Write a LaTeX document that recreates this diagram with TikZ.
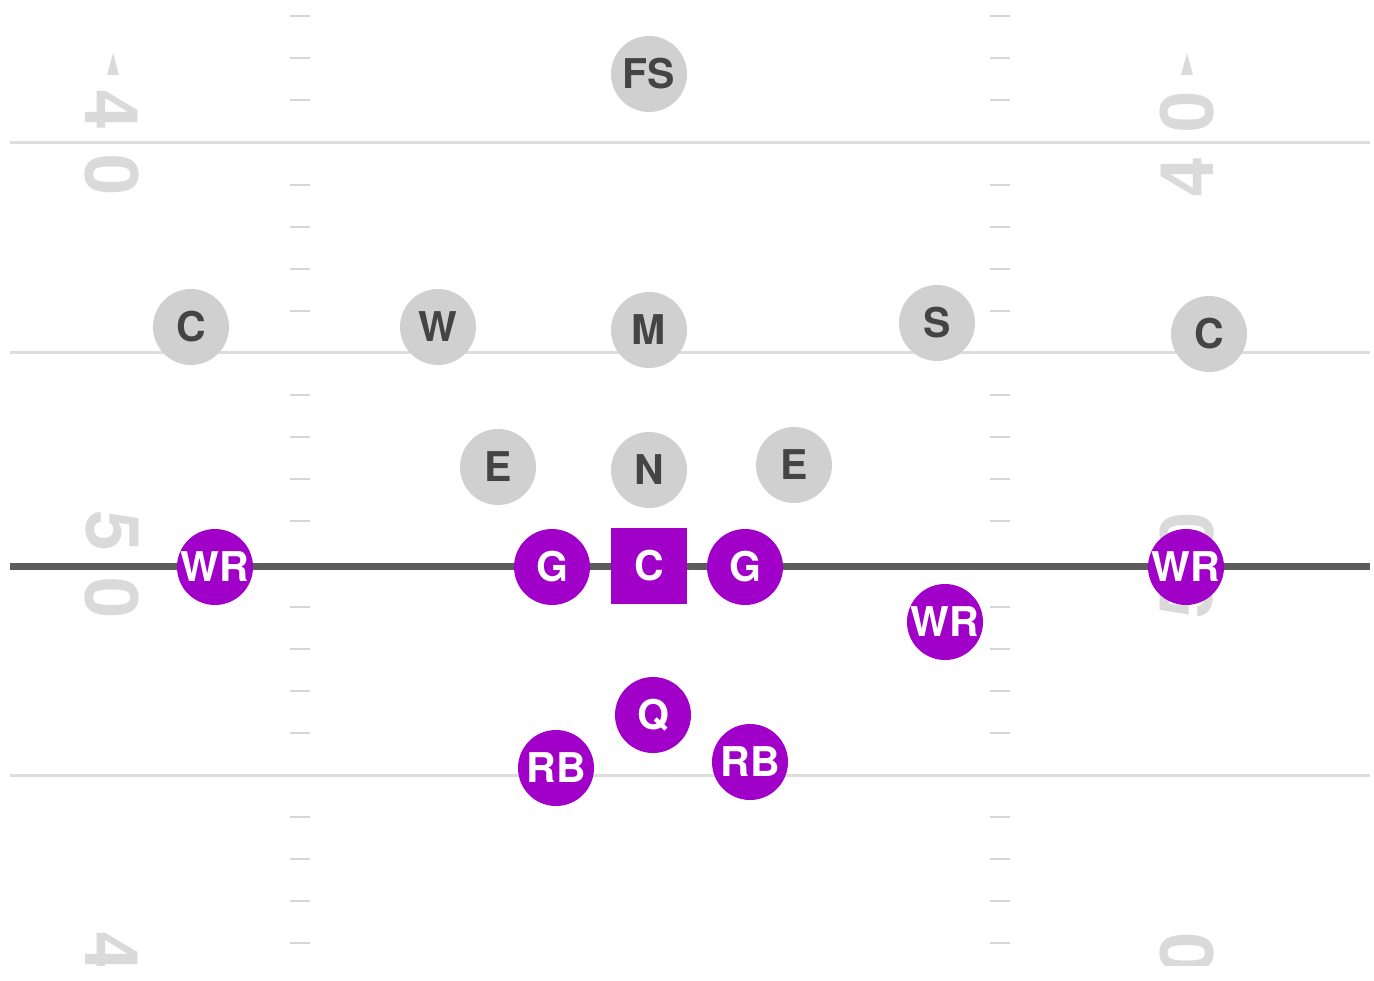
\documentclass[tikz,border=0pt]{standalone}
\usepackage{fontspec}
\setmainfont{TeX Gyre Heros}
\definecolor{offense}{RGB}{160,0,200}
\definecolor{defense}{RGB}{208,208,208}
\definecolor{deftext}{RGB}{68,68,68}
\definecolor{fieldline}{RGB}{221,221,221}
\definecolor{hashline}{RGB}{214,214,214}
\definecolor{scrim}{RGB}{92,92,92}
\definecolor{numgray}{RGB}{218,218,218}
\tikzset{
  player/.style={circle, minimum size=76pt, inner sep=0pt,
    font=\fontsize{41}{41}\selectfont\bfseries, text height=29.4pt, text depth=0pt},
  offplayer/.style={player, fill=offense, text=white},
  defplayer/.style={player, fill=defense, text=deftext},
  snapper/.style={offplayer, rectangle},
  yardnum/.style={font=\fontsize{74}{74}\selectfont\bfseries, text=numgray, inner sep=0pt},
}
\begin{document}
\begin{tikzpicture}[x=1pt, y=-1pt]
  \useasboundingbox (0,0) rectangle (1374,981);

  % Yard lines and hash marks
  \foreach \y in {143,353,775}
    \draw[fieldline, line width=3pt] (10,\y) -- (1370,\y);
  \foreach \y in {16,58,100,185,227,269,311,395,437,479,521,607,649,691,733,817,859,901,943} {
    \draw[hashline, line width=2pt] (290,\y) -- (310,\y);
    \draw[hashline, line width=2pt] (990,\y) -- (1010,\y);
  }

  % Yard numbers
  \begin{scope}
    \clip (0,0) rectangle (1374,965);
    \node[yardnum, rotate=-90] (lfour) at (112,110) {4};
    \node[yardnum, rotate=-90] (lzero) at (112,175) {0};
    \node[yardnum, rotate=90] (rzero) at (1187,112) {0};
    \node[yardnum, rotate=90] (rfour) at (1187,177) {4};
    \node[yardnum, rotate=-90] (lfive) at (112,531) {5};
    \node[yardnum, rotate=-90] (lzerob) at (112,598) {0};
    \node[yardnum, rotate=90] (rzerob) at (1187,533) {0};
    \node[yardnum, rotate=90] (rfive) at (1187,598) {5};
    \node[yardnum, rotate=-90] (lfourc) at (112,952) {4};
    \node[yardnum, rotate=90] (rzeroc) at (1187,953) {0};
  \end{scope}
  \fill[numgray] (113,53) -- (119,75) -- (107,75) -- cycle;
  \fill[numgray] (1187,53) -- (1193,75) -- (1181,75) -- cycle;

  % Line of scrimmage
  \draw[scrim, line width=7pt] (10,566) -- (1370,566);

  % Defense
  \node[defplayer] (fs) at (649,74) {FS};
  \node[defplayer] (cbl) at (191,327) {C};
  \node[defplayer] (will) at (438,327) {W};
  \node[defplayer] (mike) at (649,330) {M};
  \node[defplayer] (sam) at (937,323) {S};
  \node[defplayer] (cbr) at (1209,334) {C};
  \node[defplayer] (endl) at (498,467) {E};
  \node[defplayer] (nose) at (649,470) {N};
  \node[defplayer] (endr) at (794,465) {E};

  % Offense
  \node[offplayer] (wrl) at (215,567) {WR};
  \node[offplayer] (lg) at (552,567) {G};
  \node[snapper] (ctr) at (649,566) {C};
  \node[offplayer] (rg) at (745,567) {G};
  \node[offplayer] (slot) at (945,622) {WR};
  \node[offplayer] (wrr) at (1186,567) {WR};
  \node[offplayer] (qb) at (653,715) {Q};
  \node[offplayer] (rbl) at (556,768) {RB};
  \node[offplayer] (rbr) at (750,762) {RB};
\end{tikzpicture}
\end{document}
